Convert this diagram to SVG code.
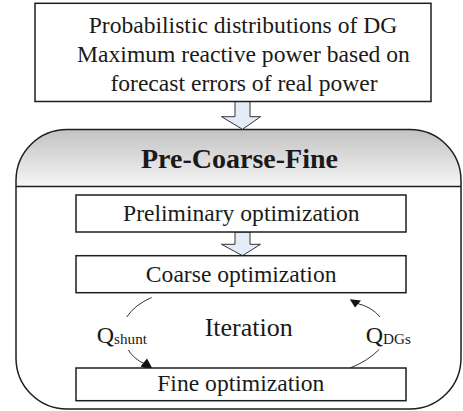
<svg xmlns="http://www.w3.org/2000/svg" width="463" height="411" viewBox="0 0 463 411">
<defs>
<linearGradient id="hdr" x1="0" y1="0" x2="0" y2="1">
<stop offset="0" stop-color="#c2c2c2"/>
<stop offset="1" stop-color="#f6f6f6"/>
</linearGradient>
<style>
.box{fill:#fff;stroke:#1e1e1e;stroke-width:1.5}
.t{font-family:"Liberation Serif","Times New Roman","DejaVu Serif",serif;fill:#1a1a1a;text-anchor:middle}
.big{font-size:23.6px}
.q{font-size:24px}
.sub{font-size:15.2px}
.fat{fill:#e4edf7;stroke:#333;stroke-width:1}
.arc{fill:none;stroke:#333;stroke-width:1}
.head{fill:#111;stroke:none}
</style>
</defs>
<rect width="463" height="411" fill="#fff"/>
<g id="container">
<path d="M16,186.5 L16,180.5 A51,51 0 0 1 67,129.5 L410,129.5 A51,51 0 0 1 461,180.5 L461,186.5 Z" fill="url(#hdr)"/>
<path d="M67,129.5 L410,129.5 A51,51 0 0 1 461,180.5 L461,358 A51,51 0 0 1 410,409 L67,409 A51,51 0 0 1 16,358 L16,180.5 A51,51 0 0 1 67,129.5 Z" fill="none" stroke="#1e1e1e" stroke-width="1.5"/>
<line x1="16" y1="186.5" x2="461" y2="186.5" stroke="#1e1e1e" stroke-width="1.5"/>
<text class="t" x="239.5" y="168" font-size="28" font-weight="bold">Pre-Coarse-Fine</text>
</g>
<g id="connectors">
<path class="fat" d="M235,101.5 L250,101.5 L250,116.7 L260.5,116.7 L242.5,129.3 L221.5,116.7 L235,116.7 Z"/>
<path class="fat" d="M235,232 L250,232 L250,244.3 L260.5,244.3 L242.5,255.7 L221.5,244.3 L235,244.3 Z"/>
<path class="arc" d="M151.7,297.5 Q135,304.5 126.7,317"/>
<path class="arc" d="M128.3,350 Q134,359 144,363.5"/>
<polygon class="head" points="153.5,370.5 140.5,366.5 147,358.5"/>
<path class="arc" d="M380,317 Q372,307 357.5,303.5"/>
<polygon class="head" points="349.8,299.2 361,300.6 355,307.6"/>
<path class="arc" d="M379.3,349.3 Q368,361 350,368"/>
<text class="t" x="248.7" y="336" style="font-size:26px">Iteration</text>
<text class="t" x="96.7" y="342.7" style="text-anchor:start"><tspan class="q">Q</tspan><tspan class="sub" dy="1">shunt</tspan></text>
<text class="t" x="365.7" y="342.7" style="text-anchor:start"><tspan class="q">Q</tspan><tspan class="sub" dy="1">DGs</tspan></text>
</g>
<g id="input">
<rect class="box" x="35" y="3.3" width="396" height="98.2"/>
<text class="t big" x="243" y="33">Probabilistic distributions of DG</text>
<text class="t big" x="243.5" y="62">Maximum reactive power based on</text>
<text class="t big" x="244" y="90.5">forecast errors of real power</text>
</g>
<g id="preliminary">
<rect class="box" x="76" y="195" width="330" height="37"/>
<text class="t big" x="241.3" y="220.7">Preliminary optimization</text>
</g>
<g id="coarse">
<rect class="box" x="76" y="255.7" width="330" height="37"/>
<text class="t big" x="241.2" y="281.7">Coarse optimization</text>
</g>
<g id="fine">
<rect class="box" x="76" y="368" width="330" height="32.7"/>
<text class="t big" x="240.8" y="391">Fine optimization</text>
</g>
</svg>
